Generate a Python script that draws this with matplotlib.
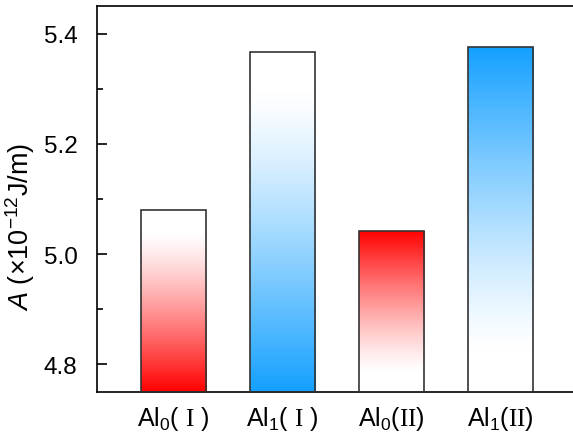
import numpy as np
import matplotlib
matplotlib.use("Agg")
import matplotlib.pyplot as plt
from matplotlib.colors import ListedColormap, to_rgb

plt.rcParams['font.family'] = ['Liberation Sans', 'DejaVu Sans']
plt.rcParams['mathtext.fontset'] = 'custom'
plt.rcParams['mathtext.rm'] = 'Liberation Serif'
plt.rcParams['mathtext.sf'] = 'Liberation Sans'
plt.rcParams['mathtext.it'] = 'Liberation Sans:italic'

# data
labels = [r'Al$_\mathsf{0}$( $\mathrm{I}$ )', r'Al$_\mathsf{1}$( $\mathrm{I}$ )',
          r'Al$_\mathsf{0}$($\mathrm{II}$)', r'Al$_\mathsf{1}$($\mathrm{II}$)']
values = [5.08, 5.367, 5.042, 5.375]
bar_colors = ['#ff0000', '#14a0ff', '#ff0000', '#14a0ff']
# which end of the bar carries the full colour
full_at_bottom = [True, True, False, False]

ymin, ymax = 4.75, 5.45
width = 0.6


def fade_cmap(color, at_bottom):
    # full colour at one end, fading to white before the other end
    s = np.linspace(0, 1, 256)
    if not at_bottom:
        s = s[::-1]
    a = np.clip(1 - s / 0.88, 0, 1) ** 1.25
    rgb = np.array(to_rgb(color))
    cols = 1 - a[:, None] * (1 - rgb)
    return ListedColormap(cols)


fig = plt.figure(figsize=(5.73, 4.35), dpi=100)
ax = fig.add_axes([97 / 573, 42 / 435, 476 / 573, 386 / 435])

x = np.arange(len(values))
bars = ax.bar(x, [v - ymin for v in values], width=width, bottom=ymin,
              facecolor='none', edgecolor='#333333', linewidth=1.2, zorder=3)

grad = np.linspace(0, 1, 256).reshape(-1, 1)
for bar, c, fb in zip(bars, bar_colors, full_at_bottom):
    x0 = bar.get_x()
    y1 = bar.get_y() + bar.get_height()
    im = ax.imshow(grad, cmap=fade_cmap(c, fb), origin='lower', aspect='auto',
                   extent=[x0, x0 + bar.get_width(), ymin, y1], zorder=2)
    im.set_clip_path(bar)

ax.set_xlim(-0.7, -0.7 + 476 / 109)
ax.set_ylim(ymin, ymax)
ax.set_xticks(x)
ax.set_xticklabels(labels, fontsize=18)
ax.set_yticks([4.8, 5.0, 5.2, 5.4])
ax.set_yticks([4.9, 5.1, 5.3], minor=True)
ax.yaxis.set_major_formatter(matplotlib.ticker.FormatStrFormatter('%.1f'))
ax.tick_params(axis='y', which='major', direction='in', length=7, width=1.2,
               labelsize=17.5, pad=14)
ax.tick_params(axis='y', which='minor', direction='in', length=4, width=1.2)
ax.tick_params(axis='x', length=0, pad=9)
ax.spines['right'].set_visible(False)
for s in ['left', 'top', 'bottom']:
    ax.spines[s].set_linewidth(1.2)

ax.set_ylabel(r'$\mathit{A}$ (×10$^{\mathsf{-12}}$J/m)', fontsize=19.5)
ax.yaxis.set_label_coords(-0.125, 0.43)

fig.savefig('out.png', dpi=100)
